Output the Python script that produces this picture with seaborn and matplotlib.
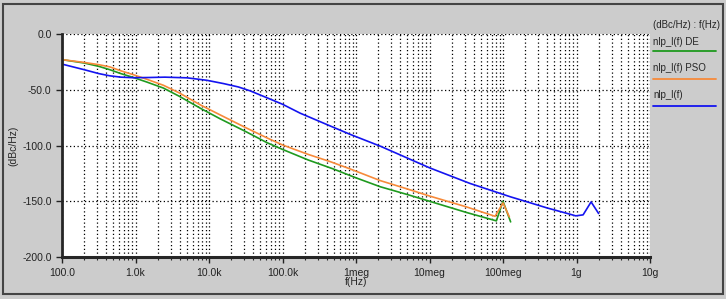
import numpy as np
import pandas as pd
import seaborn as sns
import matplotlib.pyplot as plt
from matplotlib.lines import Line2D
from matplotlib.patches import Rectangle
from matplotlib.ticker import FixedLocator, LogLocator, NullFormatter

# values (frequency in Hz, noise in dBc/Hz)
freq_de = [100, 200, 316, 447, 631, 933, 1413, 2400, 3981, 7586, 14125, 31623, 61660, 1e5,
           223872, 489779, 1e6, 2.14e6, 5.01e6, 1e7, 3.16e7, 8.13e7, 1e8, 1.27e8]
nlp_de = [-23, -26, -29, -32, -35.5, -39, -43, -48.5, -56, -66.5, -76, -87.5, -97.5, -103.5,
          -113, -121, -129, -137, -144, -150, -160, -167.6, -150, -168.5]

freq_pso = [100, 200, 316, 447, 631, 933, 1413, 2400, 3981, 7586, 14125, 31623, 61660, 1e5,
            223872, 446684, 831764, 2.14e6, 5.01e6, 1e7, 3.16e7, 7.8e7, 1e8, 1.22e8]
nlp_pso = [-23, -25.5, -27.5, -29.5, -33, -36.5, -40.5, -46, -53, -63.5, -72.5, -84, -93.2, -99.5,
           -108, -114.5, -121, -131.5, -139, -145.3, -155, -163.5, -151.5, -164]

freq_base = [100, 200, 316, 447, 631, 933, 1585, 2512, 5012, 9333, 15849, 25119, 36308, 63096,
             1e5, 173780, 446684, 831764, 2.14e6, 1e7, 3.55e7, 1.26e8, 2e8, 3.98e8, 8.13e8,
             9.77e8, 1.23e9, 1.58e9, 2e9]
nlp_base = [-27, -32, -35.5, -37.5, -38.7, -39.2, -39, -38.7, -39.3, -41.5, -44.5, -47.5, -51,
            -57.5, -63, -71, -82.5, -90, -100.6, -120, -134, -146, -150, -156, -161.6,
            -163.1, -162.2, -150.6, -161]

xtick_vals = [1e2, 1e3, 1e4, 1e5, 1e6, 1e7, 1e8, 1e9, 1e10]
xtick_labels = ['100.0', '1.0k', '10.0k', '100.0k', '1meg', '10meg', '100meg', '1g', '10g']
ytick_vals = [0, -50, -100, -150, -200]
ytick_labels = ['0.0', '-50.0', '-100.0', '-150.0', '-200.0']

series = [
    ('nlp_l(f) DE', freq_de, nlp_de, '#1f9a1f'),
    ('nlp_l(f) PSO', freq_pso, nlp_pso, '#f78a3a'),
    ('nlp_l(f)', freq_base, nlp_base, '#1414f0'),
]

sns.set_style('ticks')
plt.rcParams['font.family'] = ['Liberation Sans', 'DejaVu Sans']

bg = '#cccccc'
fig = plt.figure(figsize=(7.26, 2.99), dpi=100, facecolor=bg)
ax = fig.add_axes([62 / 726, 1 - 257 / 299, 588 / 726, 223 / 299])
ax.set_facecolor('white')

for name, f, v, c in series:
    df = pd.DataFrame({'f': f, 'v': v})
    sns.lineplot(data=df, x='f', y='v', ax=ax, color=c, linewidth=1.2, estimator=None, legend=False)

ax.set_xscale('log')
ax.set_xlim(1e2, 1e10)
ax.set_ylim(-200, 0)

ax.xaxis.set_major_locator(FixedLocator(xtick_vals))
ax.set_xticklabels(xtick_labels)
ax.xaxis.set_minor_locator(LogLocator(base=10, subs=np.arange(2, 10), numticks=100))
ax.xaxis.set_minor_formatter(NullFormatter())
ax.set_yticks(ytick_vals)
ax.set_yticklabels(ytick_labels)

ax.grid(which='major', axis='both', color='black', linestyle=(0, (1, 2)), linewidth=0.9)
ax.grid(which='minor', axis='x', color='black', linestyle=(0, (1, 2)), linewidth=0.9)

for s in ['top', 'right']:
    ax.spines[s].set_visible(False)
ax.spines['left'].set_linewidth(2)
ax.spines['bottom'].set_linewidth(2.2)
ax.tick_params(axis='both', which='major', labelsize=7.5, colors='#222222', length=4, width=1)
ax.tick_params(axis='x', which='minor', length=2, width=0.8)
ax.tick_params(axis='x', pad=4)

ax.set_xlabel('f(Hz)', fontsize=7.5)
ax.set_ylabel('(dBc/Hz)', fontsize=7.5)
ax.xaxis.set_label_coords(0.5, -0.09)
ax.yaxis.set_label_coords(-0.075, 0.5)

# legend panel on the right, drawn in figure pixels
def fx(px):
    return px / 726

def fy(py):
    return 1 - py / 299

fig.text(fx(653), fy(25), '(dBc/Hz) : f(Hz)', fontsize=7, va='center', ha='left')
label_y = [42, 68, 95]
line_y = [51, 79, 106]
for (name, f, v, c), ty, ly in zip(series, label_y, line_y):
    fig.text(fx(653), fy(ty), name, fontsize=7, va='center', ha='left')
    fig.add_artist(Line2D([fx(653), fx(716)], [fy(ly), fy(ly)], color=c, linewidth=1.3))

# outer frame
fig.add_artist(Rectangle((fx(3), fy(294)), fx(720), 290 / 299, fill=False,
                         edgecolor='#444444', linewidth=1.5))

fig.savefig('out.png', dpi=100, facecolor=bg)
